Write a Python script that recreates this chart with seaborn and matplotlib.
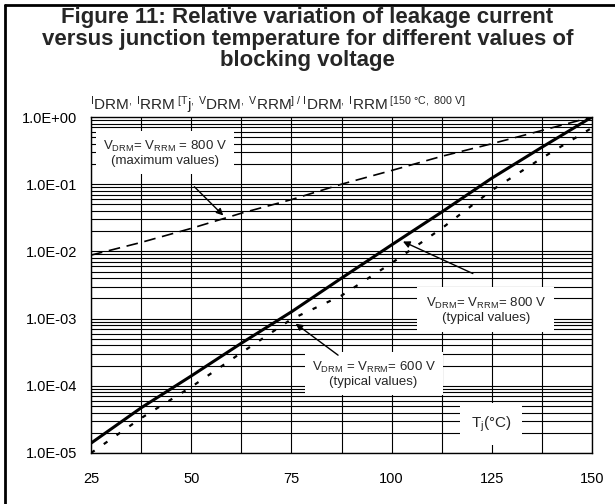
import numpy as np
import pandas as pd
import matplotlib
matplotlib.use("Agg")
import matplotlib.pyplot as plt
from matplotlib.lines import Line2D
import seaborn as sns

# junction temperature (deg C)
tj = [25, 37.5, 50, 62.5, 75, 87.5, 100, 112.5, 125, 137.5, 150]
# relative leakage current
max_800 = [0.0088, 0.0136, 0.022, 0.037, 0.059, 0.10, 0.16, 0.26, 0.40, 0.63, 1.0]
typ_800 = [1.4e-5, 4.7e-5, 1.4e-4, 4.3e-4, 1.26e-3, 4.0e-3, 0.0125, 0.0385, 0.123, 0.355, 1.0]
typ_600 = [1.0e-5, 3.3e-5, 9.6e-5, 3.1e-4, 9.8e-4, 2.2e-3, 6.7e-3, 0.022, 0.081, 0.245, 0.69]

x_ticks = [25, 50, 75, 100, 125, 150]
y_ticks = [1e-5, 1e-4, 1e-3, 1e-2, 1e-1, 1e0]
y_labels = ["1.0E-05", "1.0E-04", "1.0E-03", "1.0E-02", "1.0E-01", "1.0E+00"]

df = pd.DataFrame({"tj": tj, "max800": max_800, "typ800": typ_800, "typ600": typ_600})

sns.set_style("white")
plt.rcParams["font.family"] = ["Liberation Sans", "DejaVu Sans"]
plt.rcParams["mathtext.fontset"] = "custom"
plt.rcParams["mathtext.rm"] = "Liberation Sans"
plt.rcParams["mathtext.it"] = "Liberation Sans"

fig = plt.figure(figsize=(6.15, 5.04), dpi=100)
ax = fig.add_axes([91 / 615, 1 - 453 / 504, (592 - 91) / 615, (453 - 117) / 504])

ax.set_yscale("log")
ax.set_xlim(25, 150)
ax.set_ylim(1e-5, 1)

# grid: verticals every 12.5 degC, horizontals at 1..9 per decade
for v in np.arange(25, 150.1, 12.5):
    ax.axvline(v, color="black", lw=0.8, zorder=1)
for d in range(-5, 0):
    for m in range(1, 10):
        ax.axhline(m * 10.0 ** d, color="black", lw=0.8, zorder=1)

sns.lineplot(data=df, x="tj", y="max800", ax=ax, color="black", lw=1.2,
             zorder=3, estimator=None)
ax.lines[-1].set_dashes([7, 4])
sns.lineplot(data=df, x="tj", y="typ800", ax=ax, color="black", lw=2.2,
             zorder=3, estimator=None)
sns.lineplot(data=df, x="tj", y="typ600", ax=ax, color="black", lw=1.6,
             zorder=3, estimator=None)
ax.lines[-1].set_dashes([2, 5])

ax.set_xticks(x_ticks)
ax.set_xticklabels([str(t) for t in x_ticks])
ax.set_yticks(y_ticks)
ax.set_yticklabels(y_labels)
ax.minorticks_off()
ax.tick_params(axis="both", length=0, labelsize=10.5, colors="black")
ax.tick_params(axis="x", pad=14)
ax.tick_params(axis="y", pad=10)
ax.set_xlabel("")
ax.set_ylabel("")
for s in ax.spines.values():
    s.set_color("black")
    s.set_linewidth(1.0)

ax.text(43.5, 0.29, "V$_{\\mathrm{DRM}}$= V$_{\\mathrm{RRM}}$ = 800 V\n(maximum values)",
        ha="center", va="center", fontsize=9.5, bbox=dict(facecolor="white", edgecolor="none", pad=5),
        zorder=4, linespacing=1.05)
ax.annotate("", xy=(58.5, 0.032), xytext=(50.3, 0.098),
            arrowprops=dict(arrowstyle="-|>", color="black", lw=1.0, mutation_scale=10), zorder=5)

ax.text(123.5, 1.35e-3, "V$_{\\mathrm{DRM}}$= V$_{\\mathrm{RRM}}$= 800 V\n(typical values)",
        ha="center", va="center", fontsize=9.5, bbox=dict(facecolor="white", edgecolor="none", pad=6),
        zorder=4, linespacing=1.05)
ax.annotate("", xy=(102.2, 0.0146), xytext=(120.9, 0.0045),
            arrowprops=dict(arrowstyle="-|>", color="black", lw=1.0, mutation_scale=10), zorder=5)

ax.text(95.5, 1.5e-4, "V$_{\\mathrm{DRM}}$ = V$_{\\mathrm{RRM}}$= 600 V\n(typical values)",
        ha="center", va="center", fontsize=9.5, bbox=dict(facecolor="white", edgecolor="none", pad=5),
        zorder=4, linespacing=1.05)
ax.annotate("", xy=(75.5, 8.9e-4), xytext=(87.2, 2.7e-4),
            arrowprops=dict(arrowstyle="-|>", color="black", lw=1.0, mutation_scale=10), zorder=5)

ax.text(124.8, 2.7e-5, "T$_{\\mathrm{j}}$(°C)", ha="center", va="center", fontsize=11,
        bbox=dict(facecolor="white", edgecolor="none", pad=8), zorder=4)

# y quantity written above the plot (small raised letters, big subscripts)
ylab = ("$^{\\mathrm{I}}$DRM$^{\\mathrm{,\\ I}}$RRM$^{\\mathrm{\\ [T}}$j$^{\\mathrm{,\\ V}}$DRM"
        "$^{\\mathrm{,\\ V}}$RRM$^{\\mathrm{]\\ /\\ I}}$DRM$^{\\mathrm{,\\ I}}$RRM"
        "$^{\\mathrm{\\ [150\\ °C,\\ 800\\ V]}}$")
fig.text(90 / 615, 1 - 105 / 504, ylab, ha="left", va="center", fontsize=11)

fig.text(0.5, 1 - 39 / 504,
         "Figure 11: Relative variation of leakage current\n"
         "versus junction temperature for different values of\n"
         "blocking voltage",
         ha="center", va="center", fontsize=16, fontweight="bold", linespacing=1.05)

# frame on the left and top edge of the figure
fig.add_artist(Line2D([5 / 615, 5 / 615], [0, 1 - 5 / 504], color="black", lw=2,
                      transform=fig.transFigure))
fig.add_artist(Line2D([5 / 615, 1], [1 - 5 / 504, 1 - 5 / 504], color="black", lw=2,
                      transform=fig.transFigure))

fig.savefig("out.png", dpi=100)
